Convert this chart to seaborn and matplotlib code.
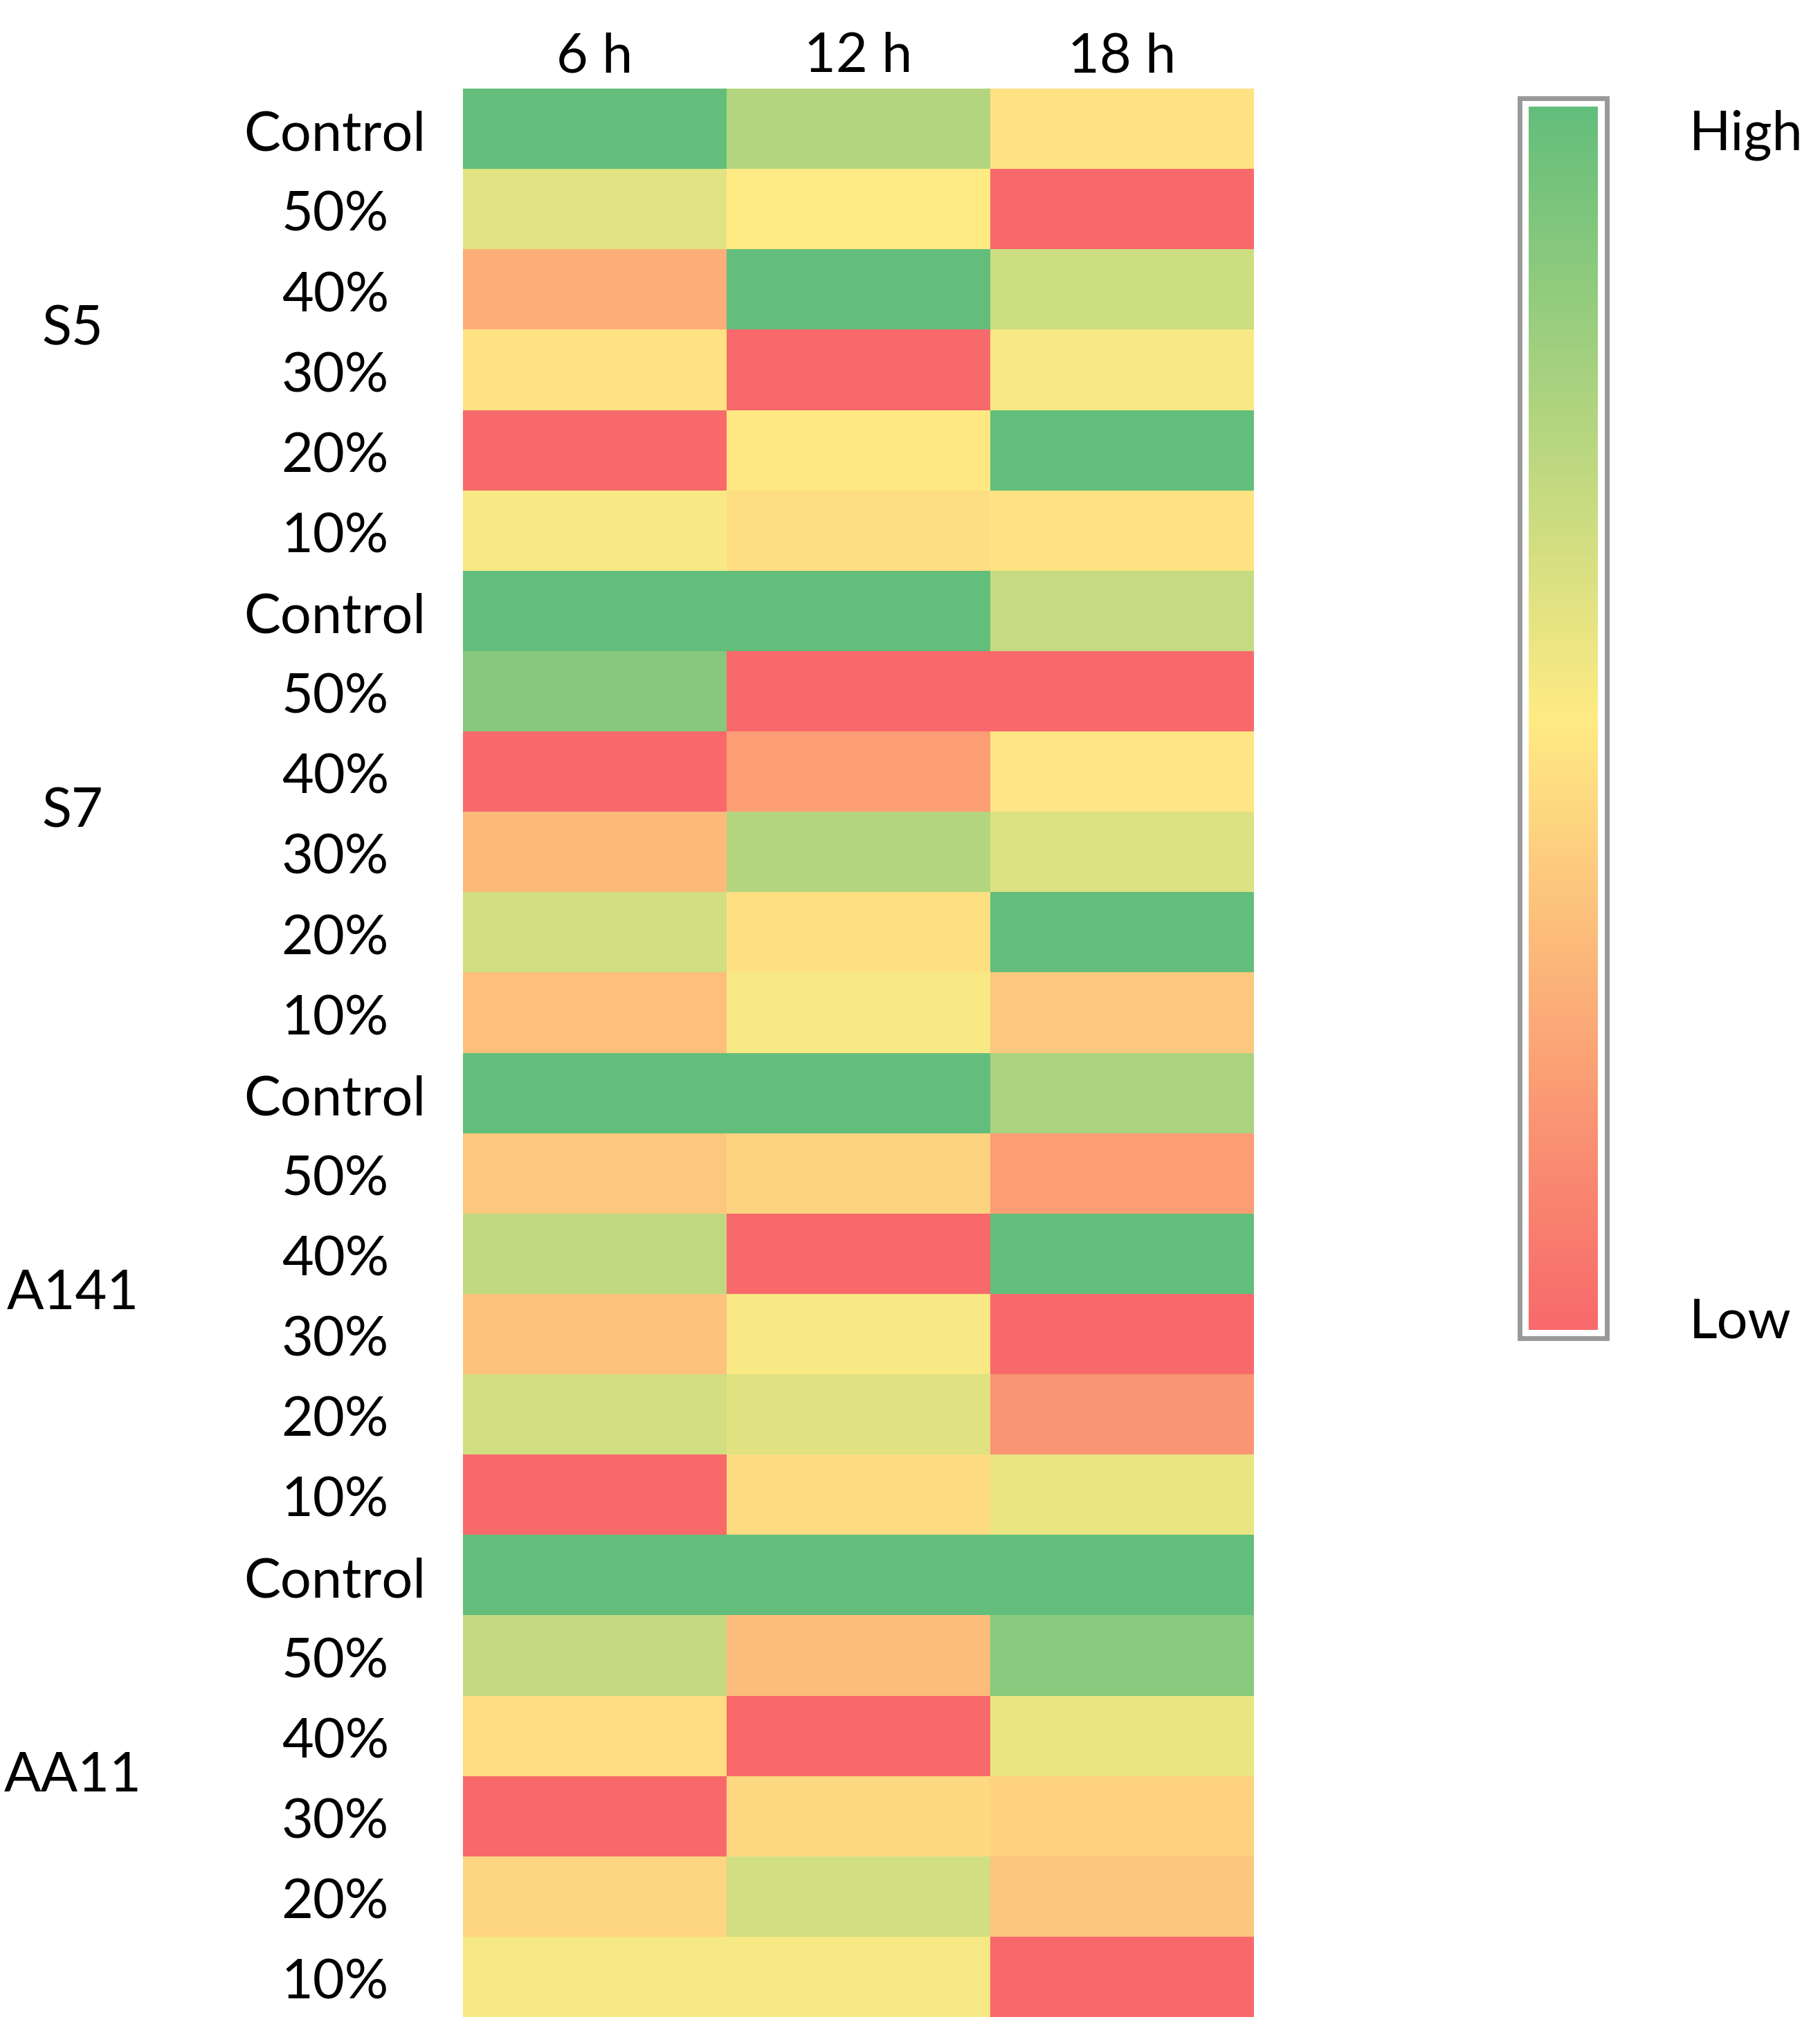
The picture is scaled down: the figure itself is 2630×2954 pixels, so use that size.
import numpy as np
import pandas as pd
import matplotlib
matplotlib.use('Agg')
import matplotlib.pyplot as plt
import matplotlib.transforms as mtransforms
from matplotlib.colors import LinearSegmentedColormap
from matplotlib.patches import Rectangle
import seaborn as sns

# data (relative scale: 0 = low, 1 = high)
strains = ['S5', 'S7', 'A141', 'AA11']
treatments = ['Control', '50%', '40%', '30%', '20%', '10%']
times = ['6 h', '12 h', '18 h']

s5 = [[1.00, 0.74, 0.47],
      [0.59, 0.50, 0.00],
      [0.27, 1.00, 0.66],
      [0.47, 0.00, 0.52],
      [0.00, 0.49, 1.00],
      [0.52, 0.45, 0.465]]
s7 = [[1.00, 1.00, 0.68],
      [0.885, 0.00, 0.00],
      [0.00, 0.20, 0.48],
      [0.31, 0.74, 0.61],
      [0.645, 0.46, 1.00],
      [0.33, 0.52, 0.365]]
a141 = [[1.00, 1.00, 0.77],
        [0.365, 0.41, 0.20],
        [0.70, 0.00, 1.00],
        [0.34, 0.52, 0.00],
        [0.645, 0.60, 0.17],
        [0.00, 0.44, 0.57]]
aa11 = [[1.00, 1.00, 1.00],
        [0.69, 0.32, 0.88],
        [0.445, 0.00, 0.57],
        [0.00, 0.43, 0.405],
        [0.415, 0.645, 0.355],
        [0.53, 0.53, 0.00]]

W, H = 2630, 2954
plt.rcParams['font.family'] = ['Lato', 'DejaVu Sans']

values = np.vstack([s5, s7, a141, aa11])
row_labels = treatments * len(strains)
df = pd.DataFrame(values, columns=times)

# excel-style red / yellow / green scale
cmap = LinearSegmentedColormap.from_list('ryg', ['#F8696B', '#FFEB84', '#63BE7B'])

fig = plt.figure(figsize=(W / 100, H / 100), dpi=100)
ax = fig.add_axes([669 / W, 1 - 2915 / H, (1812 - 669) / W, (2915 - 128) / H])
sns.heatmap(df, cmap=cmap, vmin=0, vmax=1, cbar=False, ax=ax,
            xticklabels=times, yticklabels=row_labels)

ax.xaxis.tick_top()
ax.tick_params(axis='x', length=0, pad=7, labelsize=57)
ax.tick_params(axis='y', length=0, pad=133, labelsize=57)
# row labels sit a little below the cell centre in the original
shift = mtransforms.ScaledTranslation(0, -7 / 72, fig.dpi_scale_trans)
for lbl in ax.get_yticklabels():
    lbl.set_rotation(0)
    lbl.set_horizontalalignment('center')
    lbl.set_transform(lbl.get_transform() + shift)
for lbl in ax.get_xticklabels():
    lbl.set_rotation(0)

# strain group labels
trans = mtransforms.blended_transform_factory(fig.transFigure, ax.transData)
n = len(treatments)
for i, s in enumerate(strains):
    ax.text(105 / W, i * n + n / 2, s, transform=trans, ha='center', va='center',
            fontsize=57)

# legend bar
fig.patches.append(Rectangle((2196 / W, 1 - 1934 / H), (2322 - 2196) / W, (1934 - 142) / H,
                             transform=fig.transFigure, fill=False,
                             edgecolor='#999999', linewidth=5))
cax = fig.add_axes([2209 / W, 1 - 1922 / H, (2309 - 2209) / W, (1922 - 154) / H])
grad = np.linspace(1, 0, 256).reshape(-1, 1)
cax.imshow(grad, aspect='auto', cmap=cmap, vmin=0, vmax=1)
cax.set_axis_off()
fig.text(2441 / W, 1 - 195 / H, 'High', ha='left', va='center', fontsize=57)
fig.text(2441 / W, 1 - 1912 / H, 'Low', ha='left', va='center', fontsize=57)

fig.savefig('out.png', dpi=100)
